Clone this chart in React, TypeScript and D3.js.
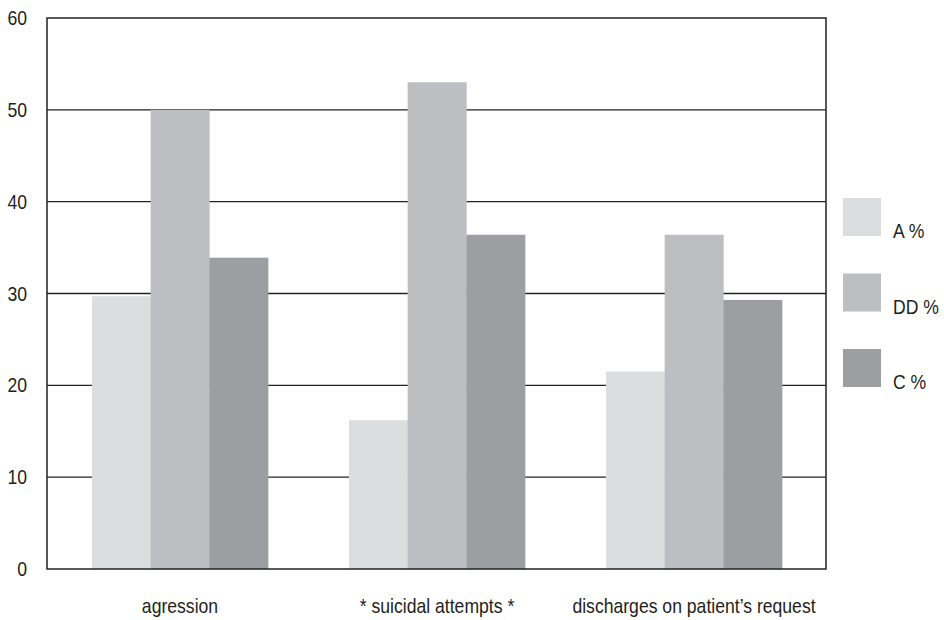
import React from "react";
import * as d3 from "d3";

const categories = ["agression", "* suicidal attempts *", "discharges on patient\u2019s request"];
const seriesNames = ["A %", "DD %", "C %"];
const seriesA = [29.7, 16.2, 21.5];
const seriesDD = [50.0, 53.0, 36.4];
const seriesC = [33.9, 36.4, 29.3];
const yTicks = [0, 10, 20, 30, 40, 50, 60];
const colors = ["#dcdddf", "#bdbec2", "#9d9ea2"];

const W = 944;
const H = 620;
const M = { left: 47, right: 826, top: 18, bottom: 569 };
const FONT = "'Liberation Sans', Arial, sans-serif";
const SX = 0.88;

export default function App() {
  const values = [seriesA, seriesDD, seriesC];
  const x0 = d3.scaleBand<string>().domain(categories).range([51.5, 822.5]).padding(0);
  const bw = x0.bandwidth();
  const barW = bw * 0.2284;
  const off = (bw - 3 * barW) / 2;
  const x1 = d3.scaleBand<string>().domain(seriesNames).range([off, off + 3 * barW]).padding(0);
  const y = d3.scaleLinear().domain([0, 60]).range([M.bottom, M.top]);

  const txt = (x: number, yy: number, s: string, anchor: string, key: string) => (
    <text
      key={key}
      transform={`translate(${x},${yy}) scale(${SX},1)`}
      textAnchor={anchor as any}
      fontFamily={FONT}
      fontSize={20}
      fill="#231f20"
    >
      {s}
    </text>
  );

  return (
    <svg width={W} height={H} style={{ position: "absolute", left: 0, top: 0 }}>
      <rect x={0} y={0} width={W} height={H} fill="#fff" />
      {yTicks.slice(1, -1).map((t) => (
        <line key={"g" + t} x1={M.left} x2={M.right} y1={y(t)} y2={y(t)} stroke="#222" strokeWidth={1.3} />
      ))}
      {categories.map((c, i) =>
        seriesNames.map((s, j) => (
          <rect
            key={c + s}
            x={(x0(c) as number) + (x1(s) as number)}
            y={y(values[j][i])}
            width={x1.bandwidth() + 0.3}
            height={y(0) - y(values[j][i])}
            fill={colors[j]}
          />
        ))
      )}
      <rect
        x={M.left}
        y={M.top}
        width={M.right - M.left}
        height={M.bottom - M.top}
        fill="none"
        stroke="#222"
        strokeWidth={1.5}
      />
      {yTicks.map((t) => txt(27, y(t) + 7, String(t), "end", "t" + t))}
      {categories.map((c) => txt((x0(c) as number) + bw / 2, 613, c, "middle", "c" + c))}
      {seriesNames.map((s, j) => (
        <g key={"l" + s}>
          <rect x={843} y={198 + j * 75.5} width={38} height={38} fill={colors[j]} />
          {txt(893, 238 + j * 75.5, s, "start", "lt" + s)}
        </g>
      ))}
    </svg>
  );
}
